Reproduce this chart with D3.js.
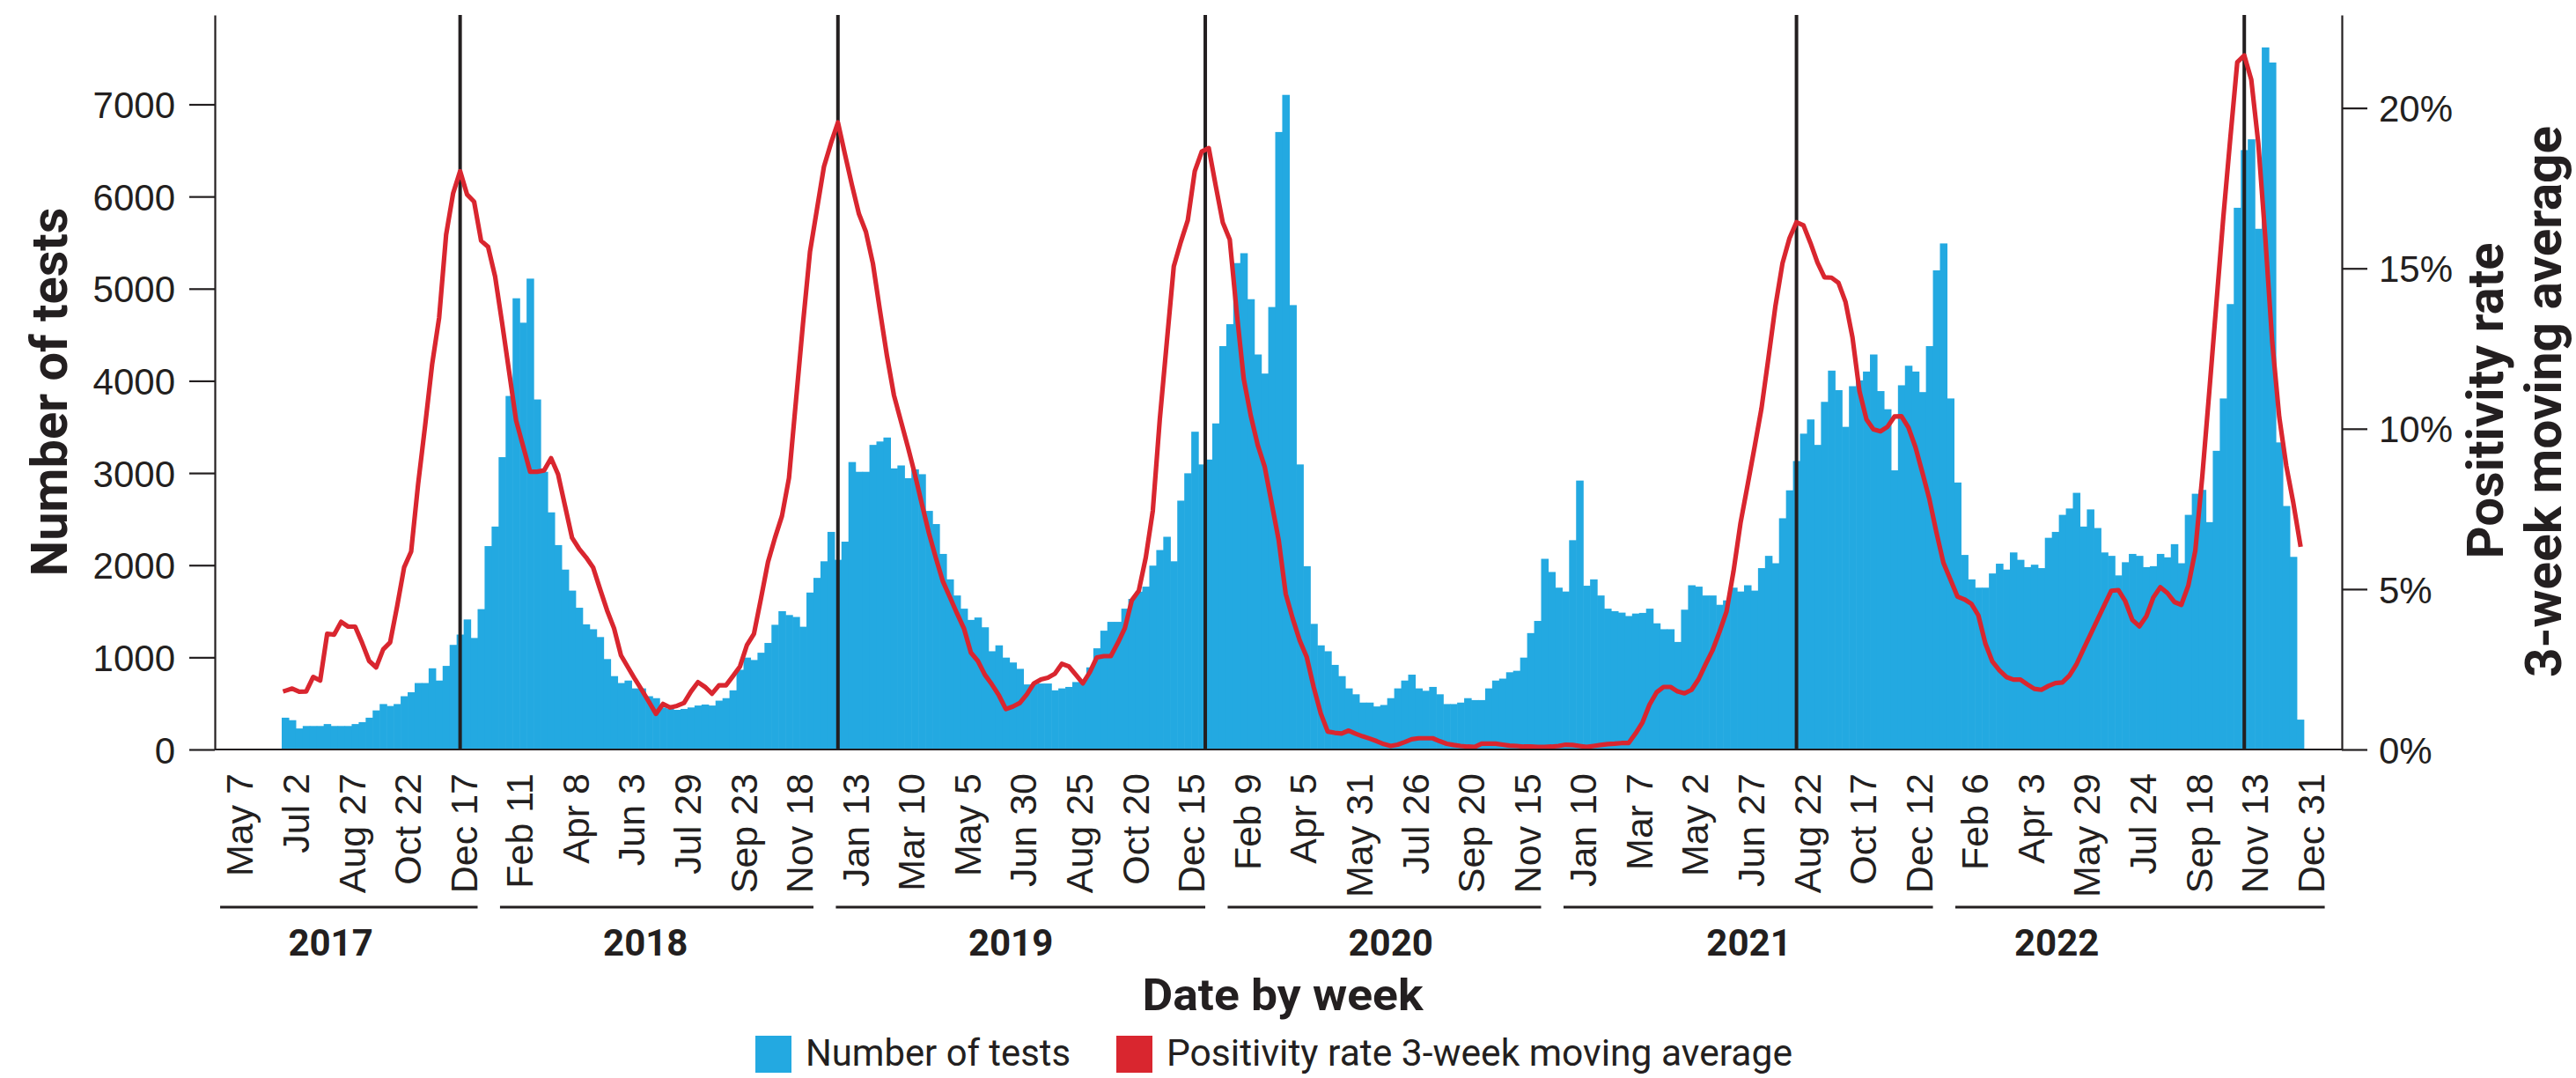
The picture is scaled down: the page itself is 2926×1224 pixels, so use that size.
<!DOCTYPE html>
<html>
<head>
<meta charset="utf-8">
<script src="https://cdn.jsdelivr.net/npm/d3@7"></script>
<style>
  body { margin: 0; background: #fff; }
</style>
</head>
<body>
<div id="chart"></div>
<script>
// x tick labels, one every 8 weeks starting May 7 2017 (week 0)
const tickLabels = [
  "May 7", "Jul 2", "Aug 27", "Oct 22", "Dec 17",
  "Feb 11", "Apr 8", "Jun 3", "Jul 29", "Sep 23", "Nov 18",
  "Jan 13", "Mar 10", "May 5", "Jun 30", "Aug 25", "Oct 20", "Dec 15",
  "Feb 9", "Apr 5", "May 31", "Jul 26", "Sep 20", "Nov 15",
  "Jan 10", "Mar 7", "May 2", "Jun 27", "Aug 22", "Oct 17", "Dec 12",
  "Feb 6", "Apr 3", "May 29", "Jul 24", "Sep 18", "Nov 13", "Dec 31"
];
const years = ["2017", "2018", "2019", "2020", "2021", "2022"];
const ticksPerYear = [5, 6, 7, 6, 7, 7];
const yearLabelWeek = [13, 58, 110.2, 164.5, 215.7, 259.7];

const firstWeek = 6; // first bar = week 6 after May 7 2017

const tests = [
  345, 318, 228, 255, 255, 255, 276, 255, 255, 255,
  276, 297, 345, 424, 493, 472, 493, 578, 621, 721,
  721, 881, 748, 907, 1135, 1247, 1411, 1210, 1523, 2207,
  2419, 3172, 3836, 4896, 4631, 5109, 3798, 3013, 2573, 2218,
  1952, 1724, 1538, 1358, 1305, 1220, 981, 796, 721, 748,
  663, 663, 578, 557, 456, 440, 430, 440, 456, 477,
  488, 477, 530, 557, 642, 865, 997, 971, 1050, 1156,
  1353, 1501, 1459, 1438, 1332, 1703, 1862, 2042, 2361, 2058,
  2255, 3119, 3013, 3013, 3305, 3342, 3385, 3050, 3082, 2944,
  3040, 2987, 2589, 2446, 2122, 1846, 1671, 1528, 1406, 1432,
  1326, 1066, 1130, 997, 944, 875, 706, 706, 716, 716,
  642, 663, 679, 732, 748, 891, 1098, 1289, 1385, 1385,
  1528, 1634, 1713, 1767, 1995, 2164, 2308, 2042, 2700, 2997,
  3448, 3093, 3146, 3538, 4377, 4615, 5278, 5385, 4886, 4286,
  4079, 4801, 6700, 7103, 4822, 3093, 1989, 1363, 1130, 1066,
  918, 796, 663, 599, 509, 509, 467, 483, 557, 663,
  748, 812, 663, 637, 679, 599, 493, 493, 509, 557,
  536, 536, 663, 748, 769, 838, 854, 997, 1263, 1395,
  2069, 1926, 1756, 1714, 2271, 2918, 1777, 1846, 1671, 1528,
  1501, 1485, 1448, 1475, 1482, 1528, 1369, 1305, 1305, 1167,
  1517, 1782, 1767, 1671, 1671, 1570, 1618, 1756, 1714, 1782,
  1724, 1968, 2101, 2021, 2509, 2812, 3130, 3427, 3581, 3305,
  3772, 4111, 3899, 3501, 3942, 4005, 4101, 4286, 3889, 3692,
  3029, 3952, 4164, 4101, 3878, 4377, 5199, 5491, 3809, 2897,
  2111, 1846, 1756, 1756, 1910, 2016, 1952, 2138, 2058, 1979,
  2005, 1968, 2297, 2361, 2546, 2615, 2785, 2419, 2605, 2403,
  2138, 2101, 1889, 2032, 2122, 2101, 1979, 1989, 2122, 2085,
  2228, 2021, 2546, 2775, 2817, 2467, 3241, 3809, 4833, 5878,
  6504, 6621, 5650, 7618, 7454, 3332, 2642, 2090, 324
];

// positivity rate, 3-week moving average (%)
const positivity = [
  1.83, 1.90, 1.80, 1.81, 2.26, 2.15, 3.61, 3.58, 3.98, 3.83,
  3.83, 3.32, 2.76, 2.56, 3.12, 3.34, 4.47, 5.68, 6.17, 8.28,
  10.10, 12.01, 13.46, 16.05, 17.34, 18.03, 17.30, 17.08, 15.86, 15.67,
  14.75, 13.30, 11.78, 10.26, 9.46, 8.66, 8.66, 8.70, 9.08, 8.58,
  7.59, 6.60, 6.26, 5.99, 5.68, 5.00, 4.34, 3.78, 2.93, 2.56,
  2.19, 1.84, 1.48, 1.11, 1.42, 1.31, 1.36, 1.45, 1.81, 2.10,
  1.95, 1.74, 2.00, 2.00, 2.29, 2.59, 3.26, 3.61, 4.71, 5.84,
  6.60, 7.28, 8.46, 10.87, 13.27, 15.51, 16.84, 18.17, 18.90, 19.55,
  18.56, 17.60, 16.70, 16.14, 15.15, 13.69, 12.28, 11.05, 10.24, 9.43,
  8.58, 7.65, 6.75, 5.97, 5.24, 4.75, 4.25, 3.78, 3.02, 2.76,
  2.33, 2.03, 1.69, 1.26, 1.34, 1.45, 1.72, 2.06, 2.18, 2.24,
  2.36, 2.67, 2.59, 2.33, 2.06, 2.41, 2.87, 2.91, 2.91, 3.32,
  3.78, 4.65, 4.95, 5.99, 7.44, 10.29, 12.69, 15.06, 15.82, 16.50,
  18.03, 18.64, 18.75, 17.57, 16.43, 15.90, 13.61, 11.55, 10.41, 9.49,
  8.81, 7.67, 6.52, 4.85, 4.08, 3.40, 2.88, 1.94, 1.13, 0.56,
  0.52, 0.50, 0.59, 0.49, 0.41, 0.34, 0.26, 0.17, 0.11, 0.15,
  0.23, 0.32, 0.35, 0.35, 0.35, 0.26, 0.18, 0.14, 0.11, 0.09,
  0.08, 0.18, 0.18, 0.18, 0.15, 0.12, 0.11, 0.09, 0.09, 0.08,
  0.08, 0.09, 0.11, 0.15, 0.14, 0.11, 0.08, 0.11, 0.14, 0.17,
  0.18, 0.20, 0.20, 0.50, 0.85, 1.40, 1.78, 1.95, 1.95, 1.81,
  1.75, 1.86, 2.19, 2.65, 3.09, 3.67, 4.30, 5.56, 7.06, 8.23,
  9.42, 10.64, 12.22, 13.84, 15.16, 15.94, 16.44, 16.34, 15.79, 15.18,
  14.72, 14.71, 14.55, 13.96, 12.85, 11.17, 10.29, 9.98, 9.92, 10.06,
  10.38, 10.39, 10.04, 9.43, 8.63, 7.80, 6.77, 5.82, 5.30, 4.77,
  4.68, 4.54, 4.18, 3.30, 2.74, 2.47, 2.26, 2.18, 2.18, 2.03,
  1.89, 1.86, 1.98, 2.07, 2.09, 2.30, 2.65, 3.12, 3.58, 4.04,
  4.50, 4.95, 4.97, 4.62, 4.04, 3.84, 4.15, 4.74, 5.06, 4.88,
  4.60, 4.51, 5.11, 6.20, 8.52, 11.16, 13.87, 16.58, 19.05, 21.43,
  21.64, 20.88, 18.91, 15.97, 12.69, 10.36, 8.85, 7.70, 6.39
];

// weeks of the seasonal positivity peaks (vertical markers)
const peakWeeks = [31.5, 85.5, 138, 222.5, 286.5];

const testTicks = [0, 1000, 2000, 3000, 4000, 5000, 6000, 7000];
const rateTicks = [0, 5, 10, 15, 20];

function drawChart(container) {
    const width = 2926;
    const height = 1224;
    const top = 17, bottom = 851, left = 244, right = 2660;
    const blue = "#23a9e1";
    const red = "#d9262f";
    const ink = "#231f20";
    const labelFont = '"Liberation Sans", Arial, sans-serif';
    const titleFont = 'Roboto, "Noto Sans", sans-serif';

    const x = d3.scaleLinear().domain([-3.56, 300.44]).range([left, right]);
    const yTests = d3.scaleLinear().domain([0, 7970]).range([bottom, top]);
    const yRate = d3.scaleLinear().domain([0, 22.9]).range([bottom, top]);

    const weeks = tests.map((v, i) => ({ week: firstWeek + i, tests: v, rate: positivity[i] }));

    const svg = d3.select(container).append("svg")
        .attr("width", width)
        .attr("height", height)
        .style("background", "#fff");

    // bars
    svg.append("g")
        .attr("fill", blue)
        .selectAll("rect")
        .data(weeks)
        .join("rect")
        .attr("x", d => x(d.week))
        .attr("width", d => x(d.week + 1) - x(d.week) + 0.6)
        .attr("y", d => yTests(d.tests))
        .attr("height", d => bottom - yTests(d.tests));

    // peak markers
    svg.append("g")
        .attr("stroke", ink)
        .attr("stroke-width", 4)
        .selectAll("line")
        .data(peakWeeks)
        .join("line")
        .attr("x1", d => x(d))
        .attr("x2", d => x(d))
        .attr("y1", top)
        .attr("y2", bottom);

    // positivity line
    const line = d3.line()
        .x(d => x(d.week + 0.5))
        .y(d => yRate(d.rate));

    svg.append("path")
        .datum(weeks)
        .attr("fill", "none")
        .attr("stroke", red)
        .attr("stroke-width", 5.2)
        .attr("stroke-linejoin", "round")
        .attr("stroke-linecap", "square")
        .attr("d", line);

    // axes
    const leftAxis = svg.append("g")
        .attr("transform", `translate(${left},0)`)
        .call(d3.axisLeft(yTests).tickValues(testTicks).tickFormat(d3.format("d"))
            .tickSize(29).tickSizeOuter(0).tickPadding(16));

    const rightAxis = svg.append("g")
        .attr("transform", `translate(${right},0)`)
        .call(d3.axisRight(yRate).tickValues(rateTicks).tickFormat(d => d + "%")
            .tickSize(29).tickSizeOuter(0).tickPadding(13));

    [leftAxis, rightAxis].forEach(g => {
        g.attr("color", ink);
        g.selectAll("path, line").attr("stroke-width", 2.2);
        g.selectAll("text")
            .attr("font-family", labelFont)
            .attr("font-size", 42)
            .attr("dy", "0.36em")
            .attr("fill", ink);
    });

    svg.append("line")
        .attr("x1", left)
        .attr("x2", right)
        .attr("y1", bottom)
        .attr("y2", bottom)
        .attr("stroke", ink)
        .attr("stroke-width", 2.2);

    // x tick labels
    svg.append("g")
        .selectAll("text")
        .data(tickLabels)
        .join("text")
        .attr("transform", (d, i) => `translate(${x(i * 8)},878) rotate(-90)`)
        .attr("text-anchor", "end")
        .attr("dy", "0.35em")
        .attr("font-family", labelFont)
        .attr("font-size", 43)
        .attr("fill", ink)
        .text(d => d);

    // year brackets
    const starts = d3.cumsum([0].concat(ticksPerYear.slice(0, -1)));
    const groups = years.map((y, i) => ({
        year: y,
        from: starts[i] * 8,
        to: (starts[i] + ticksPerYear[i] - 1) * 8,
        mid: yearLabelWeek[i]
    }));

    const yearG = svg.append("g");
    yearG.selectAll("line")
        .data(groups)
        .join("line")
        .attr("x1", d => x(d.from - 2.8))
        .attr("x2", d => x(d.to + 2))
        .attr("y1", 1030)
        .attr("y2", 1030)
        .attr("stroke", ink)
        .attr("stroke-width", 3);

    yearG.selectAll("text")
        .data(groups)
        .join("text")
        .attr("x", d => x(d.mid))
        .attr("y", 1085)
        .attr("text-anchor", "middle")
        .attr("font-family", titleFont)
        .attr("font-weight", 700)
        .attr("font-size", 42)
        .attr("fill", ink)
        .text(d => d.year);

    // titles
    svg.append("text")
        .attr("transform", "translate(76,445) rotate(-90)")
        .attr("text-anchor", "middle")
        .attr("font-family", titleFont)
        .attr("font-weight", 700)
        .attr("font-size", 58)
        .attr("textLength", 419)
        .attr("lengthAdjust", "spacingAndGlyphs")
        .attr("fill", ink)
        .text("Number of tests");

    // right title sits against the page edge, as in the source
    svg.append("text")
        .attr("transform", "translate(2843,455) rotate(-90)")
        .attr("text-anchor", "middle")
        .attr("font-family", titleFont)
        .attr("font-weight", 700)
        .attr("font-size", 58)
        .attr("textLength", 359)
        .attr("lengthAdjust", "spacingAndGlyphs")
        .attr("fill", ink)
        .text("Positivity rate");

    svg.append("text")
        .attr("transform", "translate(2909,456) rotate(-90)")
        .attr("text-anchor", "middle")
        .attr("font-family", titleFont)
        .attr("font-weight", 700)
        .attr("font-size", 58)
        .attr("textLength", 626)
        .attr("lengthAdjust", "spacingAndGlyphs")
        .attr("fill", ink)
        .text("3-week moving average");

    svg.append("text")
        .attr("x", 1457)
        .attr("y", 1147)
        .attr("text-anchor", "middle")
        .attr("font-family", titleFont)
        .attr("font-weight", 700)
        .attr("font-size", 50)
        .attr("textLength", 319)
        .attr("lengthAdjust", "spacingAndGlyphs")
        .attr("fill", ink)
        .text("Date by week");

    // legend
    const legend = [
        { label: "Number of tests", color: blue, x: 858, len: 301 },
        { label: "Positivity rate 3-week moving average", color: red, x: 1268, len: 711 }
    ];
    const lg = svg.append("g")
        .selectAll("g")
        .data(legend)
        .join("g")
        .attr("transform", d => `translate(${d.x},1176)`);
    lg.append("rect")
        .attr("width", 41)
        .attr("height", 42)
        .attr("fill", d => d.color);
    lg.append("text")
        .attr("x", 57)
        .attr("y", 34)
        .attr("font-family", titleFont)
        .attr("font-size", 42)
        .attr("textLength", d => d.len)
        .attr("lengthAdjust", "spacingAndGlyphs")
        .attr("fill", ink)
        .text(d => d.label);
}

drawChart(document.getElementById("chart"));
</script>
</body>
</html>
